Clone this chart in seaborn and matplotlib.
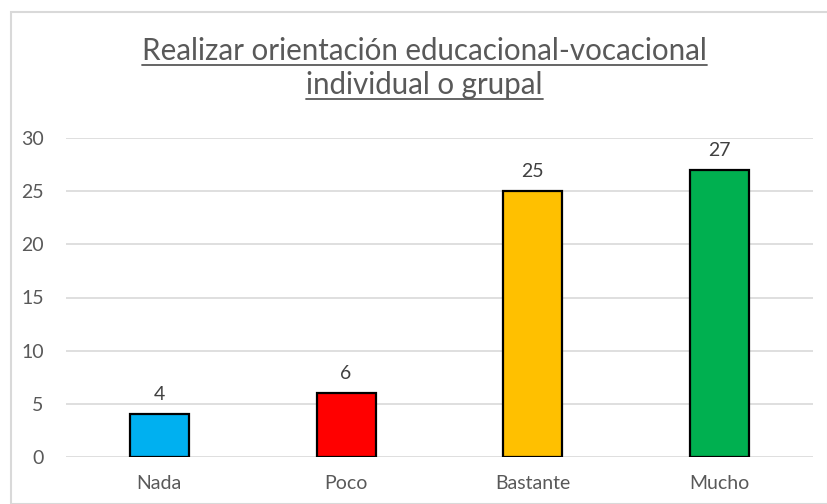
import matplotlib
matplotlib.use("Agg")
import matplotlib.pyplot as plt
import seaborn as sns
import pandas as pd
from matplotlib.patches import Rectangle
from matplotlib.lines import Line2D

categories = ["Nada", "Poco", "Bastante", "Mucho"]
values = [4, 6, 25, 27]
colors = ["#00B0F0", "#FF0000", "#FFC000", "#00B050"]
title_lines = ["Realizar orientación educacional-vocacional", "individual o grupal"]
yticks = [0, 5, 10, 15, 20, 25, 30]

sns.set_theme(style="white")
plt.rcParams["font.family"] = ["Lato", "DejaVu Sans"]

W, H = 828, 504
fig = plt.figure(figsize=(W / 100, H / 100), dpi=100)
ax = fig.add_axes([66 / W, 1 - 457 / H, (813 - 66) / W, (457 - 138) / H])

df = pd.DataFrame({"cat": categories, "val": values})
sns.barplot(data=df, x="cat", y="val", hue="cat", palette=colors, legend=False,
            width=0.316, edgecolor="black", linewidth=1.6, ax=ax, saturation=1, zorder=3)

ax.set_ylim(0, 30)
ax.set_xlim(-0.5, len(categories) - 0.5)
ax.set_yticks(yticks)
ax.yaxis.grid(True, color="#D9D9D9", linewidth=1.2, zorder=0)
ax.set_axisbelow(True)
for s in ax.spines.values():
    s.set_visible(False)
ax.set_xlabel("")
ax.set_ylabel("")
ax.tick_params(axis="y", length=0, pad=16, labelsize=14, labelcolor="#595959")
ax.tick_params(axis="x", length=0, pad=13, labelsize=14, labelcolor="#595959")

for c in ax.containers:
    ax.bar_label(c, labels=[f"{int(round(v))}" for v in c.datavalues], padding=8,
                 fontsize=14, color="#404040")

# chart border
fig.patches.append(Rectangle((11 / W, 0), 1 - 11 / W, 1 - 12 / H, transform=fig.transFigure,
                             fill=False, edgecolor="#D9D9D9", linewidth=1.5))

# title with underline
cx = 424.5 / W
baselines = [60, 94]
fig.canvas.draw()
renderer = fig.canvas.get_renderer()
fs = 20
t0 = fig.text(cx, 1 - baselines[0] / H, title_lines[0], ha="center", va="baseline",
              fontsize=fs, color="#595959")
bb = t0.get_window_extent(renderer)
fs = fs * 565 / bb.width
t0.set_fontsize(fs)
texts = [t0]
t1 = fig.text(cx, 1 - baselines[1] / H, title_lines[1], ha="center", va="baseline",
              fontsize=fs, color="#595959")
texts.append(t1)
fig.canvas.draw()
for t, b in zip(texts, baselines):
    bb = t.get_window_extent(renderer)
    y = 1 - (b + 5) / H
    fig.lines.append(Line2D([bb.x0 / W, bb.x1 / W], [y, y], transform=fig.transFigure,
                            color="#595959", linewidth=1.3))

fig.savefig("out.png", dpi=100)
